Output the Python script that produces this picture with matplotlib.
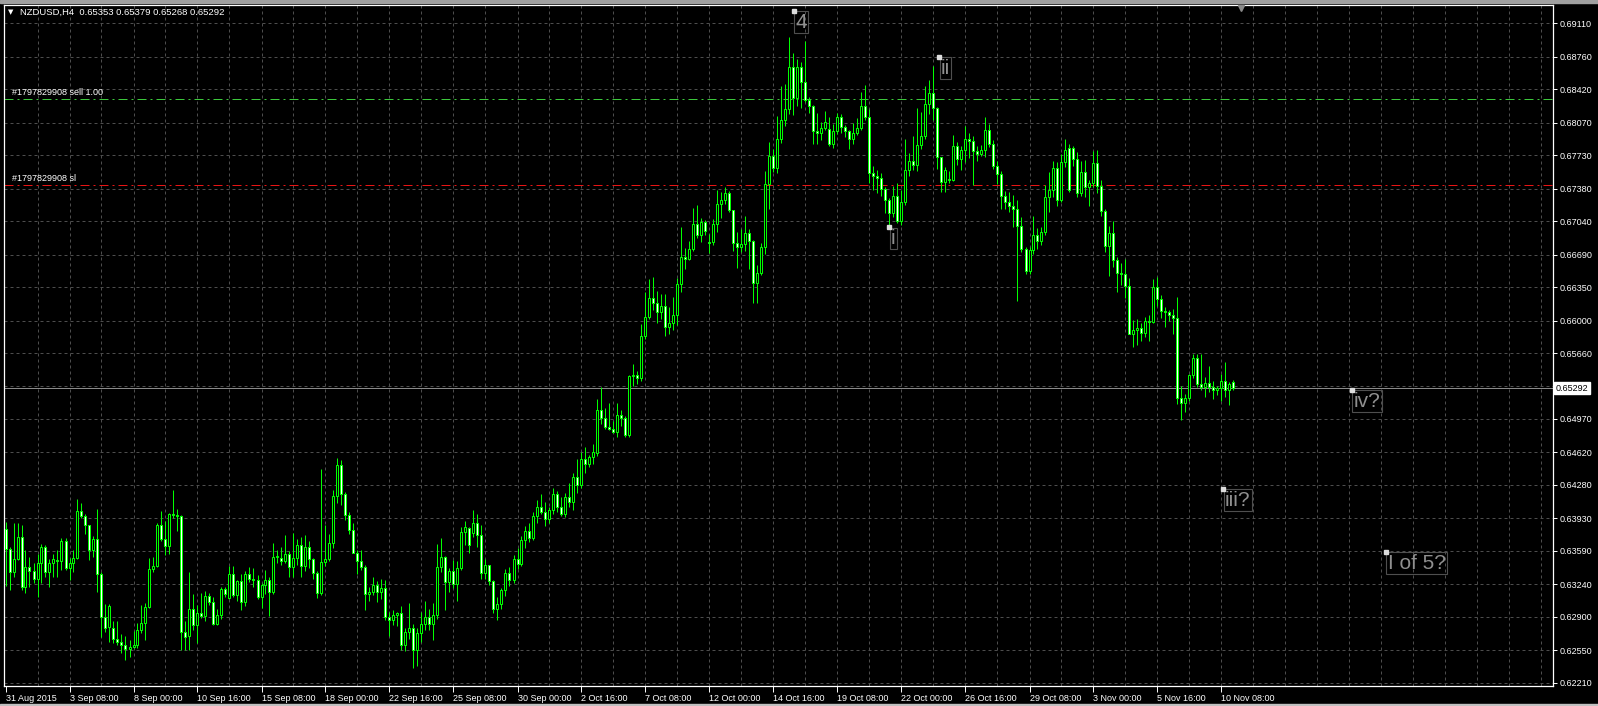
import matplotlib.pyplot as plt
import numpy as np
from matplotlib.transforms import blended_transform_factory

plt.rcParams['font.family'] = ['Liberation Sans', 'DejaVu Sans']

# NZDUSD H4, one entry per bar from 31 Aug 16:00 to 10 Nov 20:00
# prices written in 1/10000 (6382 -> 0.6382)
opens = [
    6382, 6361, 6337, 6350, 6374, 6321, 6342, 6338, 6330, 6346,
    6363, 6337, 6346, 6349, 6348, 6369, 6341, 6346, 6352, 6401,
    6396, 6386, 6360, 6371, 6335, 6290, 6279, 6278, 6267, 6264,
    6261, 6256, 6258, 6260, 6276, 6284, 6300, 6340, 6343, 6386,
    6371, 6364, 6398, 6397, 6396, 6274, 6270, 6298, 6281, 6294,
    6291, 6312, 6306, 6283, 6292, 6319, 6310, 6335, 6313, 6327,
    6306, 6335, 6330, 6329, 6311, 6323, 6328, 6316, 6353, 6352,
    6348, 6356, 6342, 6352, 6365, 6343, 6363, 6350, 6336, 6315,
    6347, 6351, 6367, 6416, 6449, 6418, 6397, 6381, 6357, 6348,
    6342, 6314, 6316, 6323, 6316, 6320, 6290, 6287, 6292, 6294,
    6260, 6274, 6278, 6255, 6273, 6283, 6290, 6283, 6292, 6342,
    6353, 6326, 6338, 6324, 6341, 6379, 6383, 6378, 6388, 6376,
    6336, 6344, 6327, 6298, 6303, 6318, 6336, 6328, 6350, 6345,
    6370, 6380, 6372, 6396, 6405, 6400, 6392, 6402, 6418, 6405,
    6398, 6415, 6410, 6436, 6428, 6455, 6450, 6457, 6461, 6506,
    6498, 6489, 6486, 6483, 6501, 6498, 6480, 6542, 6543, 6540,
    6584, 6604, 6624, 6618, 6609, 6615, 6593, 6597, 6606, 6638,
    6666, 6664, 6675, 6701, 6690, 6703, 6682, 6682, 6701, 6722,
    6726, 6733, 6716, 6681, 6677, 6680, 6692, 6683, 6639, 6650,
    6677, 6743, 6772, 6760, 6790, 6810, 6821, 6865, 6833, 6865,
    6850, 6831, 6824, 6798, 6796, 6801, 6800, 6785, 6798, 6813,
    6802, 6798, 6790, 6796, 6801, 6824, 6813, 6754, 6751, 6749,
    6738, 6726, 6712, 6730, 6704, 6724, 6758, 6767, 6763, 6784,
    6793, 6827, 6838, 6822, 6771, 6745, 6748, 6747, 6783, 6769,
    6778, 6790, 6788, 6777, 6774, 6778, 6799, 6785, 6762, 6753,
    6730, 6724, 6720, 6717, 6699, 6675, 6652, 6674, 6689, 6683,
    6693, 6729, 6737, 6760, 6726, 6766, 6781, 6781, 6769, 6733,
    6755, 6740, 6744, 6765, 6741, 6715, 6678, 6692, 6663, 6650,
    6649, 6636, 6586, 6590, 6592, 6587, 6600, 6598, 6635, 6623,
    6610, 6609, 6606, 6603, 6519, 6514, 6519, 6543, 6561, 6534,
    6530, 6535, 6530, 6527, 6529, 6537, 6527, 6535.3,
]
highs = [
    6389, 6363, 6388, 6388, 6386, 6360, 6353, 6346, 6356, 6366,
    6365, 6351, 6356, 6360, 6372, 6372, 6352, 6360, 6413, 6409,
    6398, 6386, 6375, 6403, 6337, 6303, 6303, 6286, 6286, 6272,
    6270, 6266, 6275, 6284, 6302, 6304, 6352, 6353, 6388, 6401,
    6390, 6399, 6423, 6403, 6397, 6286, 6337, 6314, 6302, 6315,
    6317, 6315, 6311, 6298, 6321, 6321, 6343, 6343, 6328, 6335,
    6338, 6342, 6341, 6334, 6325, 6339, 6332, 6367, 6360, 6363,
    6376, 6359, 6378, 6371, 6374, 6376, 6369, 6352, 6338, 6445,
    6386, 6377, 6423, 6456, 6454, 6421, 6400, 6388, 6360, 6360,
    6344, 6321, 6332, 6327, 6330, 6329, 6295, 6297, 6295, 6301,
    6278, 6304, 6283, 6278, 6295, 6307, 6298, 6304, 6366, 6372,
    6354, 6341, 6349, 6348, 6384, 6390, 6384, 6402, 6398, 6386,
    6350, 6344, 6328, 6311, 6320, 6340, 6342, 6355, 6362, 6375,
    6385, 6388, 6400, 6412, 6418, 6410, 6405, 6425, 6422, 6415,
    6420, 6430, 6440, 6455, 6462, 6468, 6459, 6471, 6518, 6530,
    6509, 6514, 6495, 6514, 6506, 6500, 6543, 6555, 6547, 6596,
    6630, 6643, 6646, 6631, 6628, 6628, 6614, 6625, 6644, 6698,
    6676, 6683, 6718, 6721, 6707, 6705, 6691, 6706, 6737, 6735,
    6740, 6736, 6716, 6693, 6696, 6709, 6696, 6684, 6658, 6681,
    6756, 6787, 6780, 6814, 6845, 6847, 6897, 6880, 6874, 6870,
    6893, 6834, 6826, 6817, 6808, 6819, 6813, 6806, 6817, 6816,
    6805, 6799, 6807, 6812, 6839, 6846, 6821, 6762, 6757, 6754,
    6740, 6728, 6741, 6744, 6737, 6790, 6775, 6793, 6822, 6818,
    6845, 6852, 6866, 6823, 6771, 6761, 6756, 6794, 6787, 6783,
    6804, 6796, 6793, 6783, 6784, 6813, 6806, 6789, 6767, 6756,
    6736, 6734, 6731, 6726, 6708, 6677, 6677, 6709, 6697, 6698,
    6742, 6755, 6767, 6766, 6774, 6790, 6785, 6783, 6776, 6767,
    6768, 6747, 6777, 6778, 6747, 6717, 6699, 6704, 6667, 6660,
    6664, 6645, 6601, 6602, 6597, 6604, 6606, 6643, 6646, 6627,
    6614, 6611, 6612, 6625, 6531, 6523, 6544, 6565, 6565, 6565,
    6541, 6552, 6537, 6532, 6544, 6557, 6536, 6537.9,
]
lows = [
    6322, 6318, 6332, 6349, 6318, 6315, 6321, 6325, 6311, 6325,
    6332, 6321, 6332, 6332, 6339, 6339, 6328, 6337, 6350, 6393,
    6377, 6349, 6353, 6316, 6269, 6274, 6264, 6263, 6260, 6252,
    6245, 6248, 6257, 6257, 6273, 6266, 6299, 6337, 6342, 6369,
    6355, 6356, 6393, 6380, 6255, 6255, 6255, 6276, 6263, 6289,
    6286, 6302, 6281, 6281, 6288, 6311, 6309, 6311, 6307, 6297,
    6301, 6326, 6321, 6309, 6299, 6314, 6291, 6314, 6346, 6344,
    6346, 6332, 6332, 6344, 6332, 6338, 6341, 6330, 6310, 6313,
    6343, 6348, 6362, 6409, 6407, 6391, 6377, 6357, 6335, 6339,
    6297, 6307, 6313, 6306, 6309, 6287, 6270, 6281, 6280, 6255,
    6254, 6267, 6236, 6239, 6264, 6276, 6276, 6266, 6288, 6337,
    6297, 6316, 6320, 6307, 6339, 6365, 6357, 6374, 6363, 6330,
    6330, 6323, 6294, 6287, 6298, 6312, 6322, 6325, 6340, 6343,
    6362, 6368, 6370, 6388, 6398, 6385, 6388, 6398, 6400, 6395,
    6394, 6405, 6402, 6420, 6425, 6440, 6447, 6450, 6458, 6492,
    6486, 6485, 6482, 6478, 6490, 6478, 6478, 6532, 6534, 6537,
    6581, 6602, 6611, 6597, 6602, 6584, 6586, 6590, 6595, 6630,
    6654, 6663, 6673, 6686, 6682, 6689, 6671, 6679, 6693, 6707,
    6722, 6714, 6673, 6655, 6672, 6673, 6654, 6618, 6618, 6648,
    6670, 6717, 6755, 6754, 6786, 6804, 6816, 6815, 6824, 6822,
    6829, 6817, 6785, 6785, 6789, 6799, 6783, 6781, 6795, 6796,
    6792, 6780, 6785, 6794, 6799, 6810, 6744, 6737, 6733, 6730,
    6712, 6697, 6708, 6702, 6700, 6721, 6751, 6758, 6756, 6780,
    6790, 6816, 6810, 6759, 6735, 6735, 6744, 6746, 6763, 6758,
    6766, 6770, 6742, 6767, 6772, 6771, 6782, 6759, 6743, 6717,
    6717, 6714, 6698, 6620, 6672, 6649, 6649, 6670, 6675, 6679,
    6689, 6714, 6729, 6720, 6724, 6761, 6735, 6762, 6729, 6730,
    6729, 6720, 6740, 6733, 6709, 6672, 6647, 6656, 6630, 6637,
    6624, 6586, 6572, 6574, 6579, 6583, 6579, 6597, 6615, 6603,
    6593, 6600, 6586, 6513, 6496, 6504, 6516, 6540, 6530, 6527,
    6520, 6525, 6518, 6522, 6516, 6520, 6512, 6526.8,
]
closes = [
    6361, 6337, 6350, 6374, 6321, 6342, 6338, 6330, 6346, 6363,
    6337, 6346, 6350, 6348, 6369, 6341, 6346, 6352, 6401, 6396,
    6386, 6360, 6371, 6335, 6290, 6278, 6301, 6267, 6264, 6261,
    6256, 6258, 6260, 6276, 6284, 6300, 6340, 6343, 6386, 6371,
    6364, 6398, 6397, 6396, 6274, 6269, 6298, 6281, 6294, 6291,
    6312, 6306, 6283, 6292, 6319, 6314, 6335, 6313, 6327, 6306,
    6335, 6330, 6328, 6311, 6323, 6328, 6316, 6353, 6354, 6348,
    6356, 6342, 6352, 6365, 6343, 6363, 6350, 6336, 6315, 6347,
    6351, 6367, 6416, 6449, 6418, 6397, 6381, 6357, 6348, 6342,
    6314, 6316, 6323, 6316, 6320, 6290, 6287, 6292, 6294, 6260,
    6274, 6278, 6255, 6273, 6283, 6290, 6283, 6292, 6342, 6353,
    6326, 6338, 6324, 6341, 6379, 6384, 6365, 6388, 6376, 6336,
    6344, 6327, 6298, 6303, 6318, 6336, 6328, 6350, 6345, 6370,
    6380, 6372, 6396, 6405, 6400, 6392, 6402, 6418, 6405, 6398,
    6415, 6410, 6436, 6428, 6455, 6450, 6457, 6462, 6506, 6498,
    6489, 6486, 6483, 6501, 6498, 6480, 6542, 6543, 6540, 6584,
    6604, 6624, 6618, 6609, 6615, 6593, 6597, 6606, 6638, 6666,
    6664, 6675, 6701, 6690, 6703, 6694, 6681, 6701, 6722, 6726,
    6733, 6716, 6681, 6677, 6680, 6692, 6683, 6639, 6650, 6677,
    6743, 6772, 6760, 6790, 6810, 6821, 6865, 6833, 6865, 6850,
    6831, 6824, 6798, 6796, 6801, 6808, 6785, 6798, 6813, 6802,
    6798, 6790, 6796, 6801, 6824, 6813, 6754, 6751, 6749, 6738,
    6726, 6712, 6730, 6704, 6724, 6758, 6767, 6763, 6784, 6793,
    6827, 6838, 6822, 6771, 6745, 6757, 6747, 6783, 6769, 6778,
    6790, 6788, 6777, 6774, 6778, 6799, 6785, 6762, 6753, 6730,
    6724, 6720, 6717, 6699, 6675, 6652, 6674, 6689, 6683, 6693,
    6729, 6737, 6760, 6726, 6766, 6778, 6737, 6769, 6733, 6755,
    6740, 6744, 6765, 6741, 6715, 6678, 6692, 6663, 6650, 6649,
    6636, 6586, 6590, 6592, 6587, 6600, 6598, 6635, 6623, 6610,
    6609, 6606, 6603, 6519, 6514, 6519, 6543, 6561, 6534, 6530,
    6535, 6530, 6527, 6529, 6537, 6527, 6534, 6529.2,
]

price_ticks = [0.69110, 0.68760, 0.68420, 0.68070, 0.67730, 0.67380, 0.67040,
               0.66690, 0.66350, 0.66000, 0.65660, 0.64970, 0.64620, 0.64280,
               0.63930, 0.63590, 0.63240, 0.62900, 0.62550, 0.62210]
hidden_level = 0.65315   # grid row under the bid box
time_labels = ['31 Aug 2015', '3 Sep 08:00', '8 Sep 00:00', '10 Sep 16:00',
               '15 Sep 08:00', '18 Sep 00:00', '22 Sep 16:00', '25 Sep 08:00',
               '30 Sep 00:00', '2 Oct 16:00', '7 Oct 08:00', '12 Oct 00:00',
               '14 Oct 16:00', '19 Oct 08:00', '22 Oct 00:00', '26 Oct 16:00',
               '29 Oct 08:00', '3 Nov 00:00', '5 Nov 16:00', '10 Nov 08:00']
bars_per_label = 16

sell_price = 0.68315
sl_price = 0.67418
bid = 0.65292

wave_text = ['4', 'ii', 'i', 'iii?', 'iv?', 'I of 5?']
wave_bar = [197.1, 233.4, 220.9, 304.4, 336.6, 345.1]
wave_price = [0.69240, 0.68757, 0.66977, 0.64237, 0.65273, 0.63578]

o = np.array(opens) / 1e4
h = np.array(highs) / 1e4
l = np.array(lows) / 1e4
c = np.array(closes) / 1e4
x = np.arange(len(c))

W, H = 1598, 706
lime = '#00ff00'
px = 0.72  # one pixel in points at 100 dpi

fig = plt.figure(figsize=(W / 100, H / 100), dpi=100, facecolor='black')
ax = fig.add_axes([4 / W, 20 / H, 1549 / W, 681 / H])
ax.set_facecolor('black')
x0, x1 = -0.375, 386.875
y0, y1 = 0.621761, 0.693015
ax.set_xlim(x0, x1)
ax.set_ylim(y0, y1)

# grid
gcol = '#4d4d4d'
ax.hlines(price_ticks + [hidden_level], x0, x1, colors=gcol, lw=px,
          linestyles=(0, (3, 3)), zorder=1)
ax.vlines(np.arange(8, 387, 8), y0, y1, colors=gcol, lw=px,
          linestyles=(0, (3, 3)), zorder=1)

# order lines
ax.axhline(sell_price, color='#3cc83c', lw=px, ls=(0, (9, 4, 2, 4)), zorder=2)
ax.axhline(sl_price, color='#e81414', lw=px, ls=(0, (9, 4, 2, 4)), zorder=2)
ax.text(1.6, sell_price + 0.0002, '#1797829908 sell 1.00', color='white',
        fontsize=6.5, va='bottom', ha='left', zorder=6)
ax.text(1.6, sl_price + 0.0002, '#1797829908 sl', color='white',
        fontsize=6.5, va='bottom', ha='left', zorder=6)

# bid line
ax.axhline(bid, color='#8a8a8a', lw=px, zorder=2)

# candles
up = c >= o
ax.vlines(x, l, h, colors=lime, lw=px, zorder=3)
ax.bar(x, np.abs(c - o), bottom=np.minimum(o, c), width=0.5,
       color=np.where(up, 'black', 'white'), edgecolor=lime,
       linewidth=px, zorder=4)

# wave labels
for t, bx, by in zip(wave_text, wave_bar, wave_price):
    ax.annotate(t, (bx, by), xytext=(1.2, -1.2), textcoords='offset points',
                ha='left', va='top', fontsize=15, color='#8f8f8f', zorder=7,
                bbox=dict(boxstyle='square,pad=0.06', fc='none',
                          ec='#4f4f4f', lw=0.8))
    ax.plot(bx, by, marker='s', ms=2.2, color='#dddddd', mec='#dddddd',
            zorder=8)

# axes look
for s in ax.spines.values():
    s.set_color('white')
    s.set_linewidth(0.9)
ax.yaxis.tick_right()
ax.set_yticks(price_ticks, [f'{v:.5f}' for v in price_ticks])
ax.tick_params(axis='y', colors='white', length=3, width=0.7,
               labelsize=6.5, pad=2)
ax.set_xticks(np.arange(len(time_labels)) * bars_per_label, time_labels)
ax.tick_params(axis='x', colors='white', length=4, width=0.7,
               labelsize=6.5, pad=1.5)
for t in ax.get_xticklabels():
    t.set_ha('left')

tr = blended_transform_factory(ax.transAxes, ax.transData)
ax.text(1.0016, bid, f'{bid:.5f}', transform=tr, va='center', ha='left',
        fontsize=6.5, color='black', clip_on=False, zorder=9,
        bbox=dict(boxstyle='square,pad=0.18', fc='white', ec='white'))

# chart shift marker
tr2 = blended_transform_factory(ax.transData, ax.transAxes)
ax.plot([308.9], [0.995], transform=tr2, marker='v', ms=5, color='#8a8a8a',
        clip_on=False, zorder=9)

# header
fig.text(8 / W, 1 - 12 / H, '\u25bc', color='white', fontsize=5,
         va='center', ha='left', family='DejaVu Sans')
fig.text(20 / W, 1 - 12 / H, 'NZDUSD,H4  0.65353 0.65379 0.65268 0.65292',
         color='white', fontsize=6.8, va='center', ha='left')

fig.add_artist(plt.Rectangle((0, 1 - 3 / H), 1, 3 / H, transform=fig.transFigure,
                             color='#a0a0a0', zorder=0))
fig.add_artist(plt.Rectangle((0, 0), 1, 2 / H, transform=fig.transFigure,
                             color='#c0c0c0', zorder=0))

fig.savefig('out.png', dpi=100, facecolor='black')
